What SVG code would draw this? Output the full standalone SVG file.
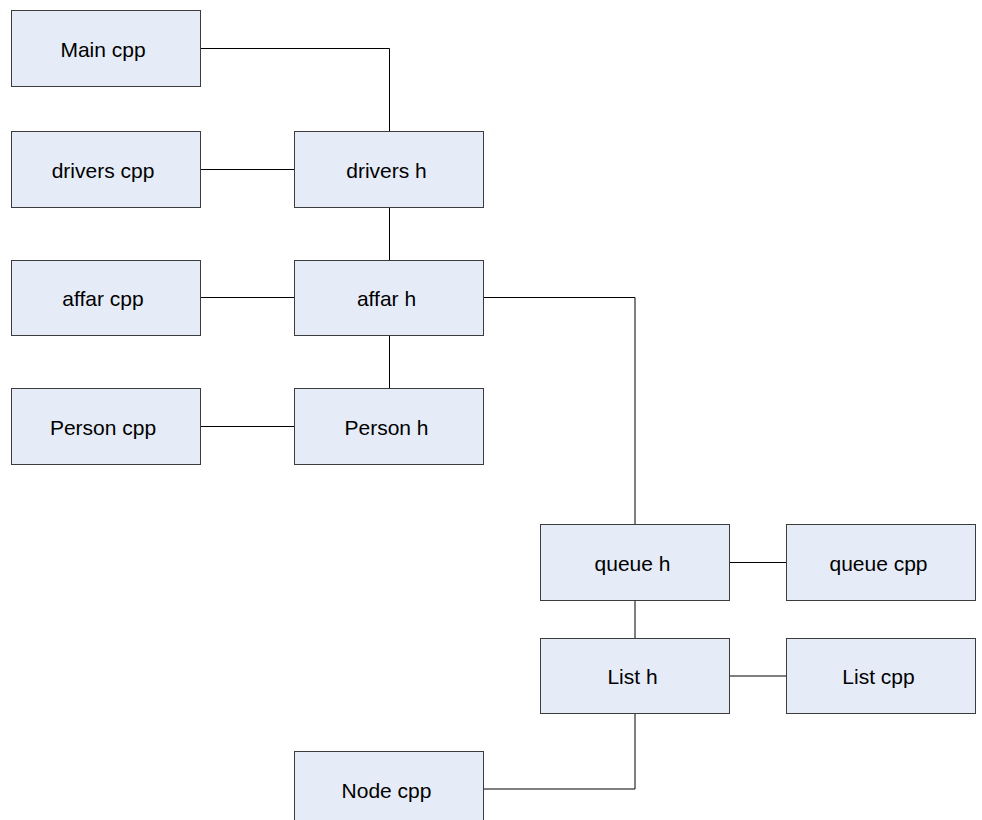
<svg xmlns="http://www.w3.org/2000/svg" width="982" height="820" viewBox="0 0 982 820">
<style>
.box{fill:#E6ECF7;stroke:#3C3C3C;stroke-width:1}
.lbl{font-family:"Liberation Sans",Arial,sans-serif;font-size:21px;fill:#000;text-anchor:middle}
.con{fill:none;stroke:#000;stroke-width:1}
</style>
<rect width="982" height="820" fill="#fff"/>
<g id="connectors">
<polyline class="con" points="200.5,48.5 389.5,48.5 389.5,131.5"/>
<line class="con" x1="200.5" y1="169.5" x2="294.5" y2="169.5"/>
<line class="con" x1="389.5" y1="207.5" x2="389.5" y2="260.5"/>
<line class="con" x1="200.5" y1="297.5" x2="294.5" y2="297.5"/>
<polyline class="con" points="483.5,297.5 635,297.5 635,524.5"/>
<line class="con" x1="389.5" y1="335.5" x2="389.5" y2="388.5"/>
<line class="con" x1="200.5" y1="426.5" x2="294.5" y2="426.5"/>
<line class="con" x1="729.5" y1="562.5" x2="786.5" y2="562.5"/>
<line class="con" x1="635" y1="600.5" x2="635" y2="638.5"/>
<line class="con" x1="729.5" y1="676" x2="786.5" y2="676"/>
<polyline class="con" points="635,713.5 635,789 483.5,789"/>
</g>
<g id="main_cpp"><rect class="box" x="11.5" y="10.5" width="189" height="76"/><text class="lbl" x="103" y="56.7">Main cpp</text></g>
<g id="drivers_cpp"><rect class="box" x="11.5" y="131.5" width="189" height="76"/><text class="lbl" x="103" y="177.7">drivers cpp</text></g>
<g id="drivers_h"><rect class="box" x="294.5" y="131.5" width="189" height="76"/><text class="lbl" x="386.5" y="177.7">drivers h</text></g>
<g id="affar_cpp"><rect class="box" x="11.5" y="260.5" width="189" height="75"/><text class="lbl" x="103" y="306.2">affar cpp</text></g>
<g id="affar_h"><rect class="box" x="294.5" y="260.5" width="189" height="75"/><text class="lbl" x="386.5" y="306.2">affar h</text></g>
<g id="person_cpp"><rect class="box" x="11.5" y="388.5" width="189" height="76"/><text class="lbl" x="103" y="434.7">Person cpp</text></g>
<g id="person_h"><rect class="box" x="294.5" y="388.5" width="189" height="76"/><text class="lbl" x="386.5" y="434.7">Person h</text></g>
<g id="queue_h"><rect class="box" x="540.5" y="524.5" width="189" height="76"/><text class="lbl" x="632.5" y="570.7">queue h</text></g>
<g id="queue_cpp"><rect class="box" x="786.5" y="524.5" width="189" height="76"/><text class="lbl" x="878.5" y="570.7">queue cpp</text></g>
<g id="list_h"><rect class="box" x="540.5" y="638.5" width="189" height="75"/><text class="lbl" x="632.5" y="684.2">List h</text></g>
<g id="list_cpp"><rect class="box" x="786.5" y="638.5" width="189" height="75"/><text class="lbl" x="878.5" y="684.2">List cpp</text></g>
<g id="node_cpp"><rect class="box" x="294.5" y="751.5" width="189" height="76"/><text class="lbl" x="386.5" y="797.7">Node cpp</text></g>
</svg>
